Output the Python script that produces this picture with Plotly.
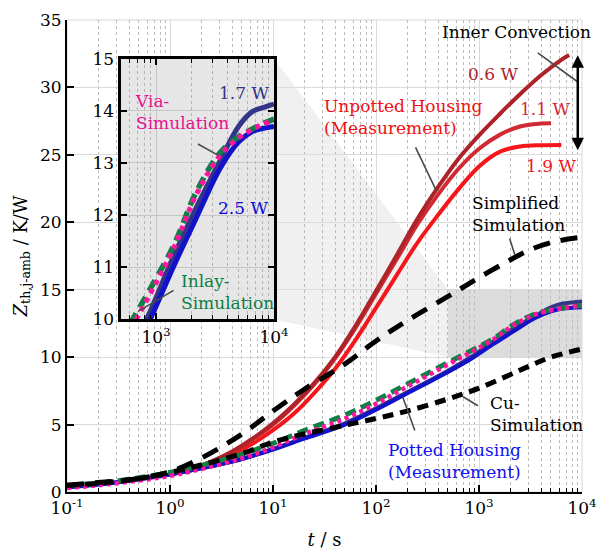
import math
import plotly.graph_objects as go

# ---------------- data ----------------
# Unpotted housing, measured Zth for three loss powers
t_06 = [1, 1.6, 2.5, 4, 6.3, 10, 16, 25, 40, 63, 100, 160, 250, 400, 630, 1000, 1600, 2500, 4000, 6300, 7500]
z_06 = [1.3, 1.7, 2.25, 3.0, 3.95, 5.1, 6.5, 8.05, 10.0, 12.3, 14.9, 17.6, 20.2, 22.6, 24.7, 26.45, 28.05, 29.5, 30.9, 32.05, 32.4]

t_11 = [1, 1.6, 2.5, 4, 6.3, 10, 16, 25, 40, 63, 100, 160, 250, 400, 630, 1000, 1600, 2500, 4000, 5000]
z_11 = [1.3, 1.7, 2.2, 2.95, 3.9, 5.0, 6.4, 7.95, 9.9, 12.15, 14.7, 17.3, 19.8, 22.05, 23.95, 25.45, 26.5, 27.1, 27.32, 27.35]

t_19 = [1, 1.6, 2.5, 4, 6.3, 10, 16, 25, 40, 63, 100, 160, 250, 400, 630, 1000, 1600, 2500, 4000, 6300]
z_19 = [1.3, 1.64, 2.12, 2.76, 3.57, 4.58, 5.82, 7.32, 9.12, 11.25, 13.65, 16.12, 18.44, 20.54, 22.44, 24.14, 25.24, 25.62, 25.72, 25.74]

# Potted housing (measurement) and the two detailed simulations
t_pot = [0.1, 0.2, 0.5, 1, 2, 5, 10, 20, 50, 100, 200, 500, 850, 1400, 2200, 3500, 5000, 6500, 8000, 10000]
z_pot_17 = [0.35, 0.55, 0.95, 1.3, 1.75, 2.45, 3.2, 4.0, 5.1, 6.2, 7.4, 9.0, 10.05, 11.2, 12.15, 13.05, 13.7, 13.98, 14.06, 14.13]
z_pot_25 = [0.35, 0.55, 0.95, 1.3, 1.75, 2.45, 3.15, 3.95, 5.0, 6.1, 7.3, 8.9, 9.9, 11.0, 11.95, 12.9, 13.4, 13.6, 13.66, 13.7]
z_inlay = [0.45, 0.65, 1.05, 1.45, 1.95, 2.8, 3.6, 4.55, 5.7, 6.8, 8.0, 9.6, 10.5, 11.4, 12.45, 13.2, 13.5, 13.65, 13.75, 13.84]
z_via = [0.3, 0.5, 0.85, 1.2, 1.7, 2.5, 3.3, 4.3, 5.45, 6.55, 7.8, 9.45, 10.4, 11.35, 12.4, 13.15, 13.48, 13.64, 13.74, 13.82]

# Simplified and Cu simulations
t_sim = [0.1, 0.2, 0.5, 1, 2, 5, 10, 20, 50, 100, 200, 500, 1000, 2000, 3000, 5000, 10000]
z_simplified = [0.5, 0.7, 1.0, 1.5, 2.5, 4.3, 6.0, 7.6, 9.5, 11.2, 12.7, 14.5, 15.9, 17.2, 17.9, 18.5, 18.9]
z_cu = [0.5, 0.65, 1.0, 1.45, 2.0, 2.85, 3.7, 4.3, 4.95, 5.45, 6.0, 6.9, 7.7, 8.7, 9.3, 10.0, 10.6]

# axis ticks
x_ticks = [0.1, 1, 10, 100, 1000, 10000]
x_ticktext = ["10<sup>-1</sup>", "10<sup>0</sup>", "10<sup>1</sup>", "10<sup>2</sup>", "10<sup>3</sup>", "10<sup>4</sup>"]
y_ticks = [0, 5, 10, 15, 20, 25, 30, 35]
inset_x_ticks = [1000, 10000]
inset_x_ticktext = ["10<sup>3</sup>", "10<sup>4</sup>"]
inset_y_ticks = [10, 11, 12, 13, 14, 15]

# zoom window shown in the inset
ZOOM_T = (500, 10000)
ZOOM_Z = (10, 15)

# ---------------- styling ----------------
FONT = "DejaVu Serif"
TICK_SIZE = 17
ANN_SIZE = 17
X_RANGE = (-1, 4)
Y_RANGE = (0, 35)
INSET_DOM_X = (0.104, 0.402)
INSET_DOM_Y = (0.366, 0.918)

C_06 = "#ad2329"
C_11 = "#d22a34"
C_19 = "#f5161c"
C_NAVY = "#343488"
C_BLUE = "#1212c8"
C_GREEN = "#0e7f45"
C_PINK = "#ff14a0"

minor_vals = [m * 10 ** e for e in range(-1, 4) for m in range(2, 10)]
inset_minor = [v for v in minor_vals if v > ZOOM_T[0] * 0.999]

fig = go.Figure()


def add_line(x, y, color, width, dash="solid", axes=("x", "y")):
    fig.add_trace(go.Scatter(
        x=x, y=y, mode="lines", xaxis=axes[0], yaxis=axes[1],
        line=dict(color=color, width=width, dash=dash, shape="spline", smoothing=1.0),
        showlegend=False, hoverinfo="skip"))


# main plot
add_line(t_19, z_19, C_19, 4)
add_line(t_11, z_11, C_11, 4)
add_line(t_06, z_06, C_06, 4)
add_line(t_pot, z_pot_17, C_NAVY, 4)
add_line(t_pot, z_pot_25, C_BLUE, 4)
add_line(t_pot, z_inlay, C_GREEN, 5, dash="11px,6px")
add_line(t_pot, z_via, C_PINK, 4.5, dash="4px,4px")
add_line(t_sim, z_simplified, "black", 5, dash="17px,11px")
add_line(t_sim, z_cu, "black", 5, dash="11px,7px")

# inset plot
ins = ("x2", "y2")
add_line(t_pot, z_pot_17, C_NAVY, 5, axes=ins)
add_line(t_pot, z_pot_25, C_BLUE, 5, axes=ins)
add_line(t_pot, z_inlay, C_GREEN, 5.5, dash="12px,7px", axes=ins)
add_line(t_pot, z_via, C_PINK, 5, dash="5px,5px", axes=ins)


def to_paper(t, z):
    px = (math.log10(t) - X_RANGE[0]) / (X_RANGE[1] - X_RANGE[0])
    py = (z - Y_RANGE[0]) / (Y_RANGE[1] - Y_RANGE[0])
    return px, py


# shaded projection from the zoom window to the inset
zx0, zy1 = to_paper(ZOOM_T[0], ZOOM_Z[1])
_, zy0 = to_paper(ZOOM_T[0], ZOOM_Z[0])
ix1 = INSET_DOM_X[1]
path = (f"M {ix1},{INSET_DOM_Y[1]} L {zx0},{zy1} L {zx0},{zy0} "
        f"L {ix1},{INSET_DOM_Y[0]} Z")
shapes = [
    dict(type="path", path=path, xref="paper", yref="paper",
         fillcolor="#f0f0f0", line=dict(width=0), layer="below"),
    dict(type="rect", xref="x", yref="y", x0=ZOOM_T[0], x1=ZOOM_T[1],
         y0=ZOOM_Z[0], y1=ZOOM_Z[1], fillcolor="#dcdcdc",
         line=dict(width=0), layer="below"),
    # light frame on top/right of main axes
    dict(type="rect", xref="paper", yref="paper", x0=0, x1=1, y0=0, y1=1,
         line=dict(color="#d8d8d8", width=1), layer="below"),
    # inset background
    dict(type="rect", xref="x2", yref="y2", x0=ZOOM_T[0], x1=ZOOM_T[1],
         y0=ZOOM_Z[0], y1=ZOOM_Z[1], fillcolor="#e6e6e6",
         line=dict(width=0), layer="below"),
]

L = math.log10
annotations = []


def label(text, x, y, color, xref="x", yref="y", xanchor="center"):
    annotations.append(dict(
        text=text, x=x, y=y, xref=xref, yref=yref, xanchor=xanchor,
        yanchor="middle", align="left" if xanchor == "left" else "center",
        showarrow=False, font=dict(family=FONT, size=ANN_SIZE, color=color)))


def leader(x0, y0, x1, y1, xref="x", yref="y"):
    annotations.append(dict(
        text="", x=x1, y=y1, ax=x0, ay=y0, xref=xref, yref=yref,
        axref=xref, ayref=yref, showarrow=True, arrowhead=0,
        arrowwidth=1.6, arrowcolor="#4a4a4a", standoff=0, startstandoff=0))


label("Inner Convection", 3.36, 34.1, "black")
label("0.6 W", 3.14, 31.0, C_06)
label("1.1 W", 3.64, 28.4, C_11)
label("1.9 W", 3.70, 24.2, C_19)
label("Unpotted Housing<br>(Measurement)", 1.48, 27.8, "#f01010", xanchor="left")
label("Simplified<br>Simulation", 2.915, 20.6, "black", xanchor="left")
label("Cu-<br>Simulation", 3.085, 5.8, "black", xanchor="left")
label("Potted Housing<br>(Measurement)", 2.094, 2.3, "#1010f0", xanchor="left")

leader(2.377, 25.66, 2.585, 22.35)
leader(3.557, 32.65, 3.953, 30.44)
leader(3.292, 18.9, 3.349, 17.57)
leader(2.83, 7.13, 2.99, 6.4)
leader(2.255, 7.13, 2.377, 4.56)

# double arrow spanning the end values of the unpotted curves
x_arrow = L(9100)
annotations.append(dict(
    text="", x=x_arrow, y=max(z_19) - 0.4, ax=x_arrow, ay=max(z_06) + 0.1,
    xref="x", yref="y", axref="x", ayref="y", showarrow=True,
    arrowhead=2, arrowside="end+start", arrowsize=1, arrowwidth=2.5,
    arrowcolor="black", standoff=0, startstandoff=0))

# inset labels
label("1.7 W", 3.745, 14.35, C_NAVY, xref="x2", yref="y2")
label("Via-<br>Simulation", 2.807, 13.97, "#ec1190", xref="x2", yref="y2", xanchor="left")
label("2.5 W", 3.737, 12.13, "#0a0ad8", xref="x2", yref="y2")
label("Inlay-<br>Simulation", 3.194, 10.53, C_GREEN, xref="x2", yref="y2", xanchor="left")
leader(3.342, 13.38, 3.531, 13.14, xref="x2", yref="y2")
leader(3.161, 10.57, 2.848, 10.15, xref="x2", yref="y2")

tickfont = dict(family=FONT, size=TICK_SIZE, color="black")
titlefont = dict(family=FONT, size=18, color="black")

fig.update_layout(
    width=607, height=557,
    margin=dict(l=67, r=10, t=17, b=63),
    paper_bgcolor="white", plot_bgcolor="white",
    font=dict(family=FONT, size=TICK_SIZE, color="black"),
    shapes=shapes, annotations=annotations,
    xaxis=dict(
        type="log", range=list(X_RANGE), domain=[0, 1], anchor="y",
        tickmode="array", tickvals=x_ticks, ticktext=x_ticktext,
        ticks="inside", ticklen=7, tickwidth=1.5, tickcolor="black",
        showline=True, linecolor="black", linewidth=2,
        showgrid=True, gridcolor="#dadada", gridwidth=1, zeroline=False,
        minor=dict(tickmode="array", tickvals=minor_vals, ticks="inside",
                   ticklen=4, tickwidth=1, tickcolor="black", showgrid=True,
                   gridcolor="#bcbcbc", griddash="dot", gridwidth=1),
        tickfont=tickfont,
        title=dict(text="<i>t</i> / s", font=titlefont, standoff=16),
    ),
    yaxis=dict(
        range=list(Y_RANGE), domain=[0, 1], anchor="x",
        tickmode="array", tickvals=y_ticks,
        ticks="inside", ticklen=7, tickwidth=1.5, tickcolor="black",
        showline=True, linecolor="black", linewidth=2,
        showgrid=True, gridcolor="#dadada", gridwidth=1, zeroline=False,
        tickfont=tickfont,
        title=dict(text="<i>Z</i><sub>th,j-amb</sub> / K/W", font=titlefont, standoff=8),
    ),
    xaxis2=dict(
        type="log", range=[L(ZOOM_T[0]), L(ZOOM_T[1])], domain=list(INSET_DOM_X),
        anchor="y2", tickmode="array", tickvals=inset_x_ticks,
        ticktext=inset_x_ticktext, ticks="inside", ticklen=6, tickwidth=1.5,
        tickcolor="black", mirror="allticks",
        showline=True, linecolor="black", linewidth=3,
        showgrid=True, gridcolor="#c6c6c6", gridwidth=1, zeroline=False,
        minor=dict(tickmode="array", tickvals=inset_minor, ticks="inside",
                   ticklen=4, tickwidth=1, tickcolor="black", showgrid=True,
                   gridcolor="#b4b4b4", griddash="dot", gridwidth=1),
        tickfont=tickfont,
    ),
    yaxis2=dict(
        range=list(ZOOM_Z), domain=list(INSET_DOM_Y), anchor="x2",
        tickmode="array", tickvals=inset_y_ticks,
        ticks="inside", ticklen=6, tickwidth=1.5, tickcolor="black",
        mirror="allticks", showline=True, linecolor="black", linewidth=3,
        showgrid=True, gridcolor="#c6c6c6", gridwidth=1, zeroline=False,
        tickfont=tickfont,
    ),
)

fig.write_html("out.html")
